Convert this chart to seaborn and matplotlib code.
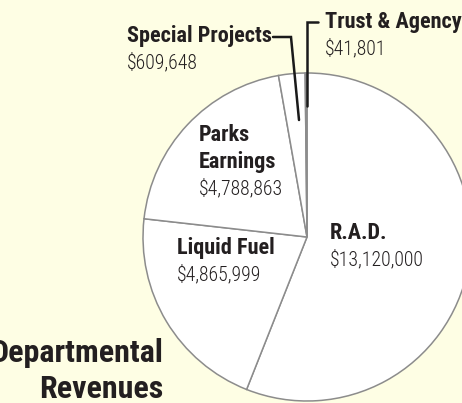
import matplotlib
matplotlib.use("Agg")
import matplotlib.pyplot as plt
from matplotlib import font_manager as fm
import seaborn as sns

sns.set_style("white")
_avail = set(f.name for f in fm.fontManager.ttflist)
_cands = ['Roboto Condensed', 'Liberation Sans Narrow', 'Archivo Narrow', 'PT Sans Narrow',
          'Barlow Condensed', 'Sofia Sans Condensed', 'DejaVu Sans']
FONT = next(c for c in _cands if c in _avail)
plt.rcParams['font.family'] = [FONT, 'DejaVu Sans']

categories = ["R.A.D.", "Liquid Fuel", "Parks\nEarnings", "Special Projects", "Trust & Agency"]
values = [13120000, 4865999, 4788863, 609648, 41801]
value_labels = ["$13,120,000", "$4,865,999", "$4,788,863", "$609,648", "$41,801"]
title_lines = ["Departmental", "Revenues"]

BG = "#FEFEE4"
W, H = 462, 403
fig = plt.figure(figsize=(W / 100, H / 100), dpi=100, facecolor=BG)
ax = fig.add_axes([0, 0, 1, 1])
ax.set_facecolor(BG)

def Y(y):
    return H - y

face = ["white", "white", "white", "white", "#9a9a9a"]
ax.pie(values, center=(307, Y(237)), radius=164, startangle=90, counterclock=False,
       colors=face, wedgeprops=dict(edgecolor="#8c8c8c", linewidth=1.1), frame=True)
ax.set_xlim(0, W)
ax.set_ylim(0, H)
ax.set_aspect("equal")
ax.axis("off")

# leader lines
ax.plot([307, 307, 318], [Y(106), Y(22), Y(22)], color="#1a1a1a", lw=1.8, solid_joinstyle="miter")
ax.plot([299, 291, 273], [Y(120), Y(37), Y(37)], color="#1a1a1a", lw=1.8, solid_joinstyle="miter")

BS = 16
RS = 14.2
tc = "#231f20"
def label(x, y, name, val, ha="left"):
    lines = name.split("\n")
    for i, ln in enumerate(lines):
        ax.text(x, Y(y + 27 * i), ln, ha=ha, va="center", fontsize=BS, fontweight="bold", color=tc)
    ax.text(x, Y(y + 27 * len(lines)), val, ha=ha, va="center", fontsize=RS, fontweight=300, color=tc)

label(330, 233, categories[0], value_labels[0])
label(177, 248, categories[1], value_labels[1])
label(199, 135, categories[2], value_labels[2])
label(127, 36, categories[3], value_labels[3])
label(325, 22, categories[4], value_labels[4])

ax.text(163, Y(353), title_lines[0], ha="right", va="center", fontsize=23, fontweight="bold", color=tc)
ax.text(163, Y(389), title_lines[1], ha="right", va="center", fontsize=23, fontweight="bold", color=tc)

fig.savefig("out.png", dpi=100, facecolor=BG)
